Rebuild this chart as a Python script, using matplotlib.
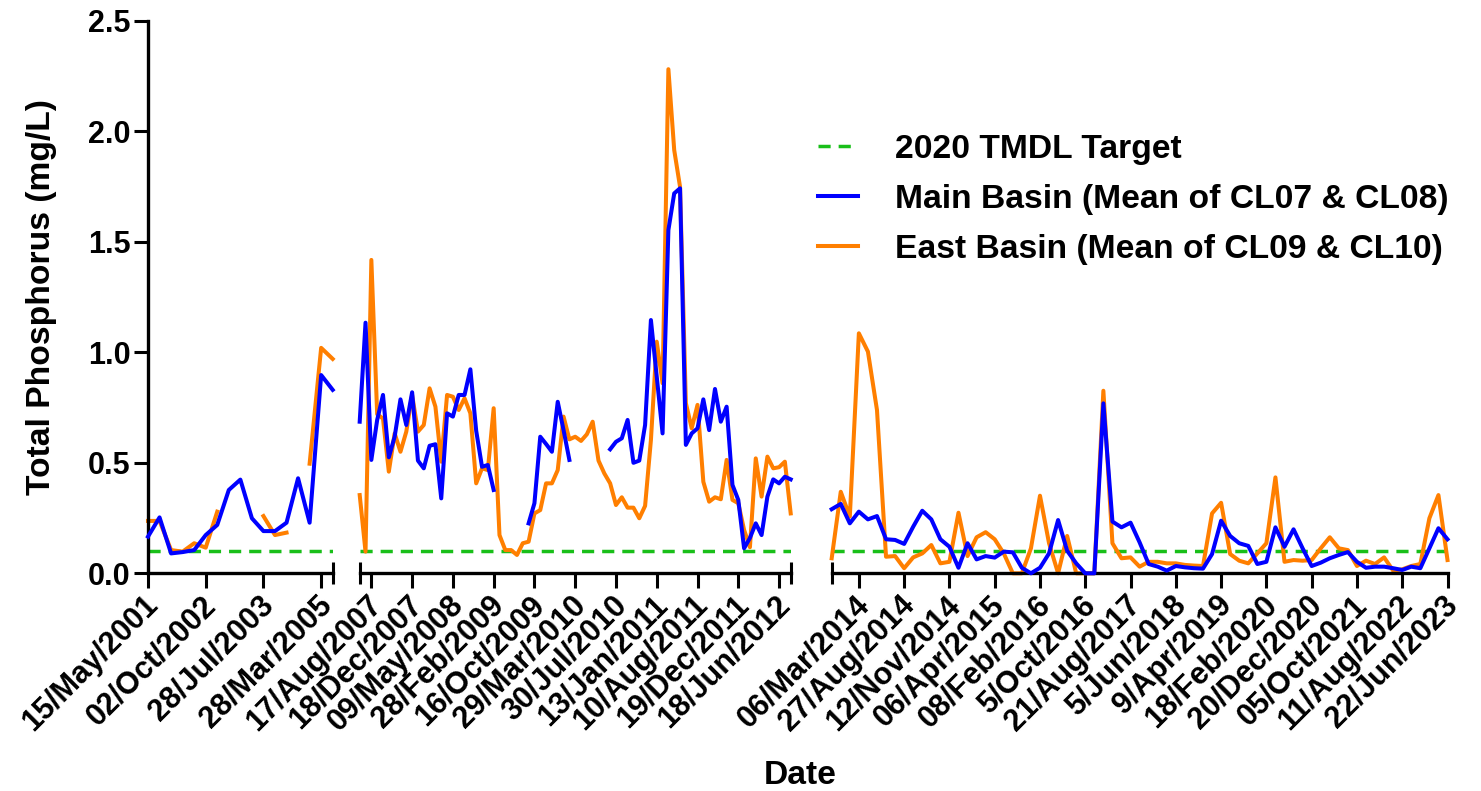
import numpy as np
import matplotlib
matplotlib.use("Agg")
import matplotlib.pyplot as plt
from matplotlib.lines import Line2D
from matplotlib.ticker import FormatStrFormatter
from matplotlib.transforms import ScaledTranslation

nan = np.nan

# ---- data: three sampling periods, values in mg/L, one value per sampling event ----
tmdl_target = 0.1

period1_labels = ["15/May/2001", "02/Oct/2002", "28/Jul/2003", "28/Mar/2005"]
period1_main = [0.166, 0.253, 0.090, 0.096, 0.105, 0.173, 0.219, 0.377, 0.424,
                0.249, 0.191, 0.191, 0.229, 0.430, 0.229, 0.897, 0.830]
period1_east = [0.237, 0.237, 0.105, 0.098, 0.136, 0.116, 0.279, nan, nan,
                nan, 0.259, 0.173, 0.184, nan, 0.496, 1.020, 0.970]

period2_labels = ["17/Aug/2007", "18/Dec/2007", "09/May/2008", "28/Feb/2009",
                  "16/Oct/2009", "29/Mar/2010", "30/Jul/2010", "13/Jan/2011",
                  "10/Aug/2011", "19/Dec/2011", "18/Jun/2012"]
period2_main = [0.686, 1.134, 0.513, 0.694, 0.807, 0.525, 0.618, 0.787, 0.671, 0.819,
                0.510, 0.475, 0.577, 0.584, 0.339, 0.724, 0.709, 0.807, 0.807, 0.923,
                0.645, 0.482, 0.490, 0.377, nan, nan, nan, nan, nan, 0.226,
                0.317, 0.618, 0.585, 0.550, 0.776, 0.648, 0.513, nan, nan, nan,
                nan, nan, nan, 0.561, 0.595, 0.611, 0.694, 0.500, 0.510, 0.671,
                1.146, 0.890, 0.633, 1.553, 1.719, 1.742, 0.581, 0.633, 0.656, 0.787,
                0.648, 0.834, 0.686, 0.754, 0.400, 0.332, 0.113, 0.160, 0.226, 0.173,
                0.347, 0.425, 0.407, 0.437, 0.425]
period2_east = [0.354, 0.098, 1.418, 0.720, 0.700, 0.460, 0.633, 0.550, 0.641, 0.807,
                0.641, 0.671, 0.837, 0.754, 0.505, 0.807, 0.799, 0.739, 0.792, 0.724,
                0.407, 0.475, 0.467, 0.747, 0.173, 0.105, 0.105, 0.083, 0.136, 0.143,
                0.271, 0.286, 0.407, 0.407, 0.467, 0.709, 0.606, 0.618, 0.599, 0.629,
                0.686, 0.510, 0.452, 0.407, 0.309, 0.344, 0.297, 0.297, 0.249, 0.305,
                0.603, 1.048, 0.860, 2.281, 1.915, 1.749, 0.770, 0.656, 0.762, 0.414,
                0.324, 0.344, 0.335, 0.513, 0.332, 0.317, 0.196, 0.118, 0.520, 0.347,
                0.528, 0.475, 0.480, 0.505, 0.271]

period3_labels = ["06/Mar/2014", "27/Aug/2014", "12/Nov/2014", "06/Apr/2015",
                  "08/Feb/2016", "5/Oct/2016", "21/Aug/2017", "5/Jun/2018",
                  "9/Apr/2019", "18/Feb/2020", "20/Dec/2020", "05/Oct/2021",
                  "11/Aug/2022", "22/Jun/2023"]
period3_main = [0.290, 0.314, 0.226, 0.279, 0.244, 0.259, 0.154, 0.151, 0.133, 0.211,
                0.283, 0.244, 0.154, 0.120, 0.025, 0.136, 0.063, 0.078, 0.071, 0.098,
                0.095, 0.025, 0.000, 0.025, 0.090, 0.241, 0.102, 0.045, 0.000, 0.000,
                0.769, 0.234, 0.208, 0.229, 0.140, 0.042, 0.030, 0.012, 0.033, 0.027,
                0.023, 0.021, 0.087, 0.238, 0.169, 0.136, 0.124, 0.042, 0.052, 0.208,
                0.120, 0.199, 0.113, 0.033, 0.048, 0.068, 0.083, 0.096, 0.052, 0.025,
                0.030, 0.030, 0.023, 0.015, 0.030, 0.023, 0.113, 0.204, 0.154]
period3_east = [0.068, 0.369, 0.256, 1.086, 1.003, 0.739, 0.075, 0.078, 0.023, 0.072,
                0.090, 0.128, 0.045, 0.052, 0.274, 0.078, 0.163, 0.186, 0.154, 0.090,
                0.000, 0.000, 0.113, 0.351, 0.136, 0.000, 0.169, 0.000, 0.000, 0.000,
                0.826, 0.136, 0.068, 0.072, 0.030, 0.052, 0.052, 0.045, 0.045, 0.038,
                0.035, 0.033, 0.271, 0.319, 0.087, 0.057, 0.045, 0.090, 0.136, 0.434,
                0.052, 0.060, 0.057, 0.060, 0.113, 0.163, 0.113, 0.105, 0.033, 0.057,
                0.042, 0.072, 0.012, 0.018, 0.033, 0.042, 0.249, 0.354, 0.060]

# ---- styling ----
plt.rcParams["font.family"] = ["Liberation Sans", "DejaVu Sans"]
plt.rcParams["font.weight"] = "bold"

BLUE = "#0000FF"
ORANGE = "#FF7F00"
GREEN = "#19BF19"
LW = 2.9
AXLW = 2.4
TICK_FS = 22
TITLE_FS = 24.2

W, H = 1481, 791
fig = plt.figure(figsize=(W / 100, H / 100), dpi=100)

y0_px, y1_px = 573.3, 20.8
bottom = (H - y0_px) / H
height = (y0_px - y1_px) / H

# (left px, right px, main, east, labels, first labelled sample, samples per label)
periods = [
    (148.0, 332.7, period1_main, period1_east, period1_labels, 0, 5),
    (359.7, 790.7, period2_main, period2_east, period2_labels, 2, 7),
    (831.7, 1447.5, period3_main, period3_east, period3_labels, 3, 5),
]

axes = []
for i, (lpx, rpx, main, east, labels, first, step) in enumerate(periods):
    ax = fig.add_axes([lpx / W, bottom, (rpx - lpx) / W, height])
    axes.append(ax)
    n = len(main)
    x = np.arange(n)
    ax.set_xlim(0, n - 1)
    ax.set_ylim(0, 2.5)

    ax.axhline(tmdl_target, color=GREEN, lw=2.5, dashes=(3.5, 2.3), zorder=1)
    ax.plot(x, east, color=ORANGE, lw=LW, zorder=2, clip_on=False)
    ax.plot(x, main, color=BLUE, lw=LW, zorder=3, clip_on=False)

    for s in ("top", "right"):
        ax.spines[s].set_visible(False)
    ax.spines["bottom"].set_linewidth(AXLW)
    ax.spines["left"].set_linewidth(AXLW)

    ticks = np.arange(first, first + step * len(labels), step)
    ax.set_xticks(ticks)
    ax.set_xticklabels(labels, rotation=45, ha="right", va="center",
                       rotation_mode="anchor", fontsize=TICK_FS, fontweight="bold")
    ax.tick_params(axis="x", which="major", direction="out", length=10.8,
                   width=2.2, pad=9)

    # break marks at the interrupted ends of the axis
    breaks = []
    if i > 0:
        breaks.append(0)
    if i < len(periods) - 1:
        breaks.append(n - 1)
    ax.set_xticks(breaks, minor=True)
    ax.tick_params(axis="x", which="minor", direction="inout", length=16,
                   width=2.2)

    for lab in ax.get_xticklabels():
        lab.set_transform(lab.get_transform() +
                          ScaledTranslation(6 / 100, 0, fig.dpi_scale_trans))

    if i == 0:
        ax.set_yticks(np.arange(0, 2.51, 0.5))
        ax.yaxis.set_major_formatter(FormatStrFormatter("%.1f"))
        ax.tick_params(axis="y", direction="out", length=10.4, width=2.2,
                       pad=2, labelsize=TICK_FS)
    else:
        ax.spines["left"].set_visible(False)
        ax.set_yticks([])
    ax.patch.set_visible(False)

fig.text(42 / W, 1 - 297 / H, "Total Phosphorus (mg/L)", rotation=90,
         ha="center", va="center", fontsize=TITLE_FS, fontweight="bold")
fig.text(800 / W, 1 - 775 / H, "Date", ha="center", va="center",
         fontsize=TITLE_FS, fontweight="bold")

handles = [
    Line2D([], [], color=GREEN, lw=2.5, dashes=(3.5, 2.3)),
    Line2D([], [], color=BLUE, lw=LW),
    Line2D([], [], color=ORANGE, lw=LW),
]
names = ["2020 TMDL Target",
         "Main Basin (Mean of CL07 & CL08)",
         "East Basin (Mean of CL09 & CL10)"]
fig.legend(handles, names, loc="upper left",
           bbox_to_anchor=(818 / W, 1 - 134 / H), frameon=False,
           borderpad=0, borderaxespad=0, handlelength=1.2,
           handletextpad=1.1, labelspacing=0.56,
           prop={"family": "Liberation Sans", "weight": "bold", "size": TITLE_FS})

fig.savefig("out.png", dpi=100)
